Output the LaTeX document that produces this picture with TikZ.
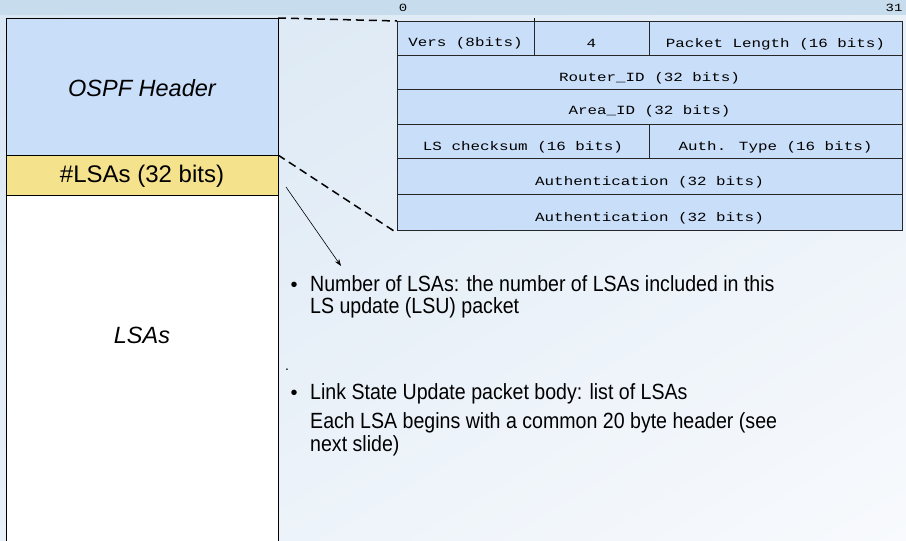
\documentclass[tikz,border=0pt]{standalone}
\usepackage{fontspec}
\setmainfont{Liberation Sans}
\newfontfamily\monof[FakeStretch=1.27]{Liberation Mono}
\newfontfamily\narrowf[FakeStretch=0.89]{Liberation Sans}
\usetikzlibrary{arrows.meta,shadings}
\definecolor{bandc}{RGB}{199,221,237}
\definecolor{bgl}{RGB}{216,230,243}
\definecolor{bgm}{RGB}{232,240,248}
\definecolor{bgr}{RGB}{248,250,253}
\definecolor{hdrc}{RGB}{201,222,248}
\definecolor{yelc}{RGB}{245,226,140}
\tikzset{
  lbox/.style={draw=black, line width=0.8pt, inner sep=0pt, outer sep=0pt, anchor=north west, minimum width=272pt},
  cell/.style={draw=black!85, line width=0.7pt, fill=hdrc, inner sep=0pt, outer sep=0pt, anchor=north west},
  ctext/.style={font=\monof\fontsize{12.5}{14}\selectfont, inner sep=0pt},
  btext/.style={font=\narrowf\fontsize{22}{22}\selectfont, anchor=base west, inner sep=0pt},
  bulletmark/.style={font=\fontsize{20}{20}\selectfont, anchor=base, inner sep=0pt}
}
\begin{document}
\begin{tikzpicture}[x=1pt,y=-1pt]
\useasboundingbox (0,0) rectangle (906,541);
\shade[upper left=bgl, upper right=bgm, lower left=bgm, lower right=bgr] (0,0) rectangle (906,541);
\fill[bandc] (0,0) rectangle (906,15);
% left column
\node[lbox, fill=hdrc, minimum height=137pt] (hdr) at (6,18) {};
\node[font=\itshape\fontsize{23.5}{24}\selectfont] (hdrt) at (142,88) {OSPF Header};
\node[lbox, fill=yelc, minimum height=40pt] (lsa) at (6,155) {};
\node[font=\fontsize{24}{24}\selectfont] (lsat) at (142,176) {\#LSAs (32 bits)};
\node[lbox, fill=white, minimum height=360pt] (body) at (6,195) {};
\node[font=\itshape\fontsize{23.5}{24}\selectfont] (bodyt) at (142,335) {LSAs};
% header table
\node[cell, minimum width=137pt, minimum height=34pt] (c11) at (397,21) {};
\node[cell, minimum width=115pt, minimum height=34pt] (c12) at (534,21) {};
\node[cell, minimum width=253pt, minimum height=34pt] (c13) at (649,21) {};
\node[cell, minimum width=505pt, minimum height=34pt] (r2) at (397,55) {};
\node[cell, minimum width=505pt, minimum height=35pt] (r3) at (397,89) {};
\node[cell, minimum width=252pt, minimum height=34pt] (c41) at (397,124) {};
\node[cell, minimum width=253pt, minimum height=34pt] (c42) at (649,124) {};
\node[cell, minimum width=505pt, minimum height=36pt] (r5) at (397,158) {};
\node[cell, minimum width=505pt, minimum height=36pt] (r6) at (397,194) {};
\draw[line width=0.7pt] (534,18) -- (c12.north west);
\node[ctext] (t11) at ([yshift=-5pt]c11.center) {Vers (8bits)};
\node[ctext] (t12) at ([yshift=-5pt]c12.center) {4};
\node[ctext] (t13) at ([yshift=-6pt]c13.center) {Packet Length (16 bits)};
\node[ctext] (t2) at ([yshift=-6pt]r2.center) {Router\_ID (32 bits)};
\node[ctext] (t3) at ([yshift=-5pt]r3.center) {Area\_ID (32 bits)};
\node[ctext] (t41) at ([yshift=-6pt]c41.center) {LS checksum (16 bits)};
\node[ctext] (t42) at ([yshift=-6pt]c42.center) {Auth. Type (16 bits)};
\node[ctext] (t5) at ([yshift=-6pt]r5.center) {Authentication (32 bits)};
\node[ctext] (t6) at ([yshift=-6pt]r6.center) {Authentication (32 bits)};
\node[font=\monof\fontsize{11}{12}\selectfont, inner sep=0pt] (b0) at (403,8) {0};
\node[font=\monof\fontsize{11}{12}\selectfont, inner sep=0pt] (b31) at (894,8) {31};
% dashed zoom lines
\draw[line width=1.5pt, dash pattern=on 8pt off 5pt] (hdr.north east) -- (c11.north west);
\draw[line width=1.5pt, dash pattern=on 8pt off 5pt] (lsa.north east) -- ([yshift=-3pt]r6.south west);
% arrow
\coordinate (a0) at (286,187);
\coordinate (a1) at (341,266);
\draw[line width=0.6pt, -{Stealth[length=7pt,width=5pt]}] (a0) -- (a1);
% bullet text
\node[bulletmark] (bul1) at (294,291) {•};
\node[btext] (l1) at (310,291) {Number of LSAs: the number of LSAs included in this};
\node[btext] (l2) at (310,313) {LS update (LSU) packet};
\node[font=\fontsize{14}{14}\selectfont, anchor=base] (dot) at (287,370) {.};
\node[bulletmark] (bul2) at (294,399) {•};
\node[btext] (l3) at (310,399) {Link State Update packet body: list of LSAs};
\node[btext] (l4) at (310,428) {Each LSA begins with a common 20 byte header (see};
\node[btext] (l5) at (310,451) {next slide)};
\end{tikzpicture}
\end{document}
